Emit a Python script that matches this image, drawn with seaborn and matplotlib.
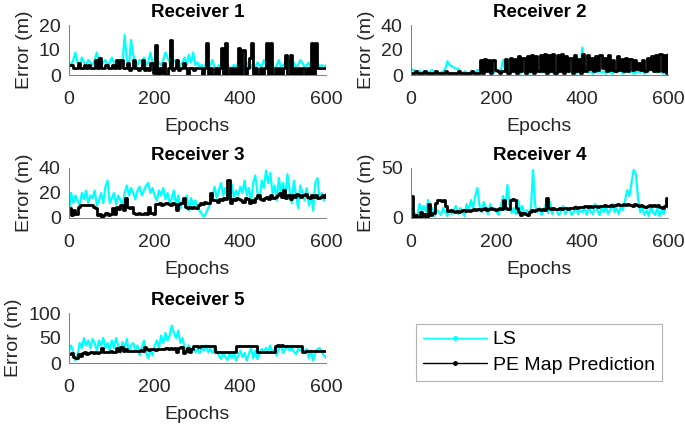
import matplotlib
matplotlib.use("Agg")
import matplotlib.pyplot as plt
from matplotlib.lines import Line2D
import seaborn as sns
import numpy as np

# epochs sampled every 5 epochs (0..600)
epochs = np.arange(0, 601, 5)

# Receiver 1
r1_ls = [5, 4, 6, 9, 5, 4, 7, 5, 4, 6, 5, 4, 6, 9, 5, 4, 5, 6, 4, 5, 7,
         5, 4, 3, 6, 5, 16, 6, 4, 14, 8, 5, 4, 6, 5, 7, 4, 5, 9, 5, 4,
         3, 5, 4, 6, 9, 7, 5, 4, 6, 5, 3, 4, 5, 7, 4, 8, 5, 9, 4, 5,
         3, 4, 2, 5, 3, 4, 6, 3, 2, 4, 3, 5, 2, 4, 3, 2, 4, 3, 5, 3,
         4, 2, 5, 3, 4, 2, 3, 5, 4, 3, 6, 4, 3, 5, 4, 2, 4, 6, 3, 4,
         5, 3, 6, 4, 5, 3, 4, 6, 5, 3, 4, 5, 2, 4, 3, 5, 3, 4, 3, 4]
r1_pe = [4, 4, 3, 3, 5, 3, 3, 4, 3, 4, 3, 3, 6, 3, 7, 3, 3, 4, 3, 3, 4,
         3, 6, 3, 6, 3, 3, 5, 2, 3, 6, 3, 2, 3, 6, 2, 3, 2, 5, 1, 12,
         0, 3, 1, 5, 0, 3, 14, 2, 3, 6, 2, 3, 5, 3, 0, 3, 3, 2, 3, 3,
         3, 0, 3, 13, 0, 3, 0, 3, 0, 3, 11, 0, 13, 0, 3, 0, 3, 0, 11, 0,
         10, 0, 3, 7, 13, 0, 3, 0, 3, 0, 3, 13, 0, 13, 0, 3, 0, 3, 0, 3,
         8, 0, 8, 0, 3, 0, 3, 0, 3, 0, 3, 0, 13, 0, 13, 3, 3, 3, 3, 3]

# Receiver 2
r2_ls = [5, 4, 3, 3, 3, 2, 3, 3, 2, 3, 4, 2, 2, 1, 2, 3, 5, 11, 8, 7, 6,
         5, 5, 2, 1, 3, 2, 1, 2, 3, 2, 4, 3, 5, 4, 11, 4, 2, 3, 2, 4,
         3, 4, 12, 3, 4, 2, 3, 5, 2, 3, 1, 4, 2, 3, 1, 2, 3, 2, 4, 3,
         2, 3, 1, 2, 3, 2, 1, 3, 2, 4, 7, 8, 4, 2, 3, 2, 1, 3, 4, 22,
         6, 4, 2, 3, 1, 3, 2, 4, 2, 3, 1, 4, 2, 1, 3, 2, 4, 3, 1, 2,
         4, 2, 3, 1, 2, 3, 2, 4, 1, 2, 3, 4, 5, 3, 2, 4, 2, 1, 2, 1]
r2_pe = [2, 2, 3, 2, 2, 2, 3, 2, 2, 2, 2, 3, 2, 2, 2, 2, 3, 2, 2, 2,
         2, 2, 3, 2, 2, 2, 2, 2, 3, 2, 2, 2,
         12, 2, 13, 3, 12, 2, 12, 4, 3, 2, 3, 3, 13, 2, 14, 3, 13, 2, 15, 3,
         14, 2, 15, 3, 16, 2, 15, 3, 16,
         3, 17, 2, 16, 3, 17, 2, 16, 3, 17, 2, 15, 3, 14, 2, 16, 3, 13, 2, 17,
         3, 16, 5, 14, 3, 15, 4, 16, 6, 14, 3, 16, 4, 12, 3, 15, 4, 13, 3, 14,
         3, 13, 4, 12, 5, 10, 4, 12, 3, 14, 5, 15, 3, 16, 3, 17, 3, 16, 2, 17]

# Receiver 3
r3_ls = [3, 20, 12, 18, 14, 10, 20, 15, 22, 12, 18, 16, 22, 10, 14, 20, 12, 25, 30, 12, 16,
         20, 11, 18, 14, 10, 20, 26, 18, 24, 20, 15, 22, 25, 18, 22, 26, 28, 20, 24, 18,
         14, 22, 18, 24, 15, 20, 12, 16, 22, 10, 18, 8, 14, 12, 18, 6, 16, 10, 14, 8,
         6, 3, 1, 4, 8, 12, 18, 25, 16, 22, 28, 18, 24, 15, 20, 27, 16, 22, 18, 25,
         20, 30, 18, 24, 12, 28, 34, 20, 15, 30, 24, 38, 28, 36, 20, 26, 14, 32, 20, 28,
         16, 35, 22, 12, 30, 18, 8, 26, 20, 14, 24, 10, 18, 6, 28, 32, 15, 20, 14, 18]
r3_pe = [8, 2, 6, 3, 9, 10, 10, 10, 10, 10, 10, 9, 8, 2, 3, 1, 2, 4, 2, 3, 8,
         3, 9, 7, 10, 6, 16, 9, 8, 9, 4, 3, 4, 3, 3, 4, 3, 9, 4, 3, 11,
         11, 12, 10, 11, 12, 11, 10, 12, 11, 6, 11, 12, 16, 9, 8, 9, 8, 9, 8, 10,
         12, 11, 13, 12, 12, 20, 14, 14, 13, 15, 14, 16, 15, 30, 12, 15, 14, 16, 15, 14,
         13, 16, 15, 12, 14, 13, 16, 18, 15, 14, 16, 17, 15, 18, 16, 17, 18, 20, 17, 22,
         16, 18, 15, 18, 17, 19, 18, 17, 18, 19, 17, 16, 18, 17, 18, 16, 17, 18, 17, 19]

# Receiver 4
r4_ls = [10, 8, 4, 2, 14, 8, 12, 6, 18, 4, 10, 2, 8, 6, 3, 10, 6, 2, 8, 4, 8,
         12, 4, 10, 6, 2, 14, 8, 18, 10, 22, 30, 12, 6, 16, 10, 4, 14, 8, 10, 6,
         3, 12, 22, 8, 33, 14, 5, 10, 4, 18, 8, 12, 3, 8, 4, 10, 48, 12, 6, 10,
         3, 8, 14, 5, 16, 4, 10, 8, 3, 6, 12, 4, 8, 10, 3, 6, 12, 4, 8, 6,
         10, 3, 12, 6, 4, 14, 8, 3, 10, 6, 12, 4, 8, 14, 6, 10, 4, 12, 8, 18,
         28, 22, 36, 48, 44, 20, 6, 10, 3, 8, 2, 12, 6, 3, 10, 2, 8, 4, 14, 10]
r4_pe = [22, 1, 3, 0, 6, 2, 4, 1, 14, 3, 5, 15, 18, 18, 17, 18, 12, 7, 8, 7, 6,
         7, 6, 7, 8, 7, 8, 7, 8, 9, 8, 9, 8, 9, 10, 8, 9, 10, 9, 8, 9,
         10, 9, 18, 10, 9, 18, 19, 18, 10, 6, 3, 5, 4, 3, 6, 8, 7, 8, 9, 8,
         9, 8, 20, 10, 9, 10, 9, 9, 10, 9, 10, 10, 9, 10, 10, 11, 10, 11, 11, 11,
         12, 11, 12, 11, 12, 12, 11, 12, 12, 13, 12, 12, 13, 12, 13, 14, 13, 13, 14, 13,
         14, 13, 12, 14, 13, 12, 13, 12, 11, 12, 13, 12, 13, 12, 13, 11, 10, 12, 20, 12]

# Receiver 5
r5_ls = [25, 35, 20, 5, 15, 40, 30, 50, 35, 45, 30, 48, 40, 25, 45, 35, 50, 30, 40, 25, 45,
         30, 50, 35, 20, 42, 30, 48, 22, 35, 40, 25, 35, 15, 30, 45, 20, 10, 25, 15, 35,
         45, 30, 55, 40, 60, 45, 55, 75, 60, 50, 65, 40, 50, 30, 20, 35, 25, 30, 22, 28,
         20, 30, 25, 35, 22, 28, 20, 30, 25, 15, 8, 20, 12, 6, 18, 10, 22, 5, 15, 25,
         12, 20, 5, 18, 30, 10, 25, 8, 20, 28, 22, 30, 25, 35, 20, 28, 15, 30, 35, 20,
         28, 32, 25, 30, 22, 18, 28, 25, 30, 22, 28, 10, 25, 5, 20, 28, 30, 22, 15, 10]
r5_pe = [18, 20, 12, 10, 18, 15, 20, 22, 18, 20, 22, 20, 22, 21, 22, 30, 22, 23, 22, 24, 23,
         22, 30, 25, 32, 24, 28, 25, 24, 25, 24, 25, 24, 26, 25, 32, 28, 27, 28, 28, 27,
         28, 29, 28, 29, 30, 29, 30, 29, 30, 22, 30, 33, 20, 25, 30, 22, 28, 35, 34, 33,
         35, 35, 35, 34, 35, 35, 34, 22, 22, 22, 22, 22, 22, 22, 22, 22, 22, 34, 34, 35,
         34, 35, 34, 35, 35, 34, 35, 22, 22, 22, 22, 22, 22, 22, 22, 35, 36, 35, 36, 35,
         35, 34, 35, 35, 34, 35, 35, 35, 22, 25, 24, 25, 24, 25, 24, 25, 24, 25, 24, 24]

titles = ["Receiver 1", "Receiver 2", "Receiver 3", "Receiver 4", "Receiver 5"]
ls_data = [r1_ls, r2_ls, r3_ls, r4_ls, r5_ls]
pe_data = [r1_pe, r2_pe, r3_pe, r4_pe, r5_pe]
y_ticks = [[0, 10, 20], [0, 20, 40], [0, 20, 40], [0, 50], [0, 50, 100]]
x_ticks = [0, 200, 400, 600]
legend_labels = ["LS", "PE Map Prediction"]

sns.set_style("white")
plt.rcParams["font.family"] = ["Liberation Sans", "DejaVu Sans"]
txt_col = "#262626"
fs = 14

fig = plt.figure(figsize=(6.85, 4.26), dpi=100)

# axes boxes in figure fractions (left, bottom, width, height)
col_left = [69 / 685, 411 / 685]
row_bottom = [1 - 75 / 426, 1 - 218 / 426, 1 - 363 / 426]
w, h = 257 / 685, 50 / 426

for i in range(5):
    ax = fig.add_axes([col_left[i % 2], row_bottom[i // 2], w, h])
    sns.lineplot(x=epochs, y=ls_data[i], ax=ax, color="#00ffff", linewidth=1.6)
    sns.lineplot(x=epochs, y=pe_data[i], ax=ax, color="black", linewidth=2.0,
                 drawstyle="steps-post")
    ax.set_xlim(0, 600)
    ax.set_ylim(0, y_ticks[i][-1])
    ax.set_xticks(x_ticks)
    ax.set_yticks(y_ticks[i])
    ax.tick_params(direction="in", length=3, width=0.6, colors=txt_col,
                   labelsize=fs)
    ax.tick_params(axis="x", pad=11.5)
    ax.tick_params(axis="y", pad=6)
    for s in ["top", "right"]:
        ax.spines[s].set_visible(False)
    for s in ["left", "bottom"]:
        ax.spines[s].set_color("#7f7f7f")
        ax.spines[s].set_linewidth(0.7)
    ax.set_xlabel("Epochs", fontsize=fs, color=txt_col, labelpad=7)
    ax.set_ylabel("Error (m)", fontsize=fs, color=txt_col, labelpad=4)
    ax.set_title(titles[i], fontsize=13.5, fontweight="bold", color="black", pad=6)

# legend sits in the empty 6th slot
handles = [Line2D([], [], color="#00ffff", lw=1, marker=".", markersize=5),
           Line2D([], [], color="black", lw=1, marker=".", markersize=5)]
leg = fig.legend(handles, legend_labels, loc="upper left",
                 bbox_to_anchor=(416 / 685, 1 - 324 / 426), borderaxespad=0,
                 fontsize=fs, frameon=True, fancybox=False, handlelength=3.3,
                 handletextpad=0.3, borderpad=0.35, labelspacing=0.4)
leg.get_frame().set_edgecolor("#a0a0a0")
leg.get_frame().set_linewidth(0.8)
for t in leg.get_texts():
    t.set_color("black")

fig.savefig("out.png", dpi=100)
